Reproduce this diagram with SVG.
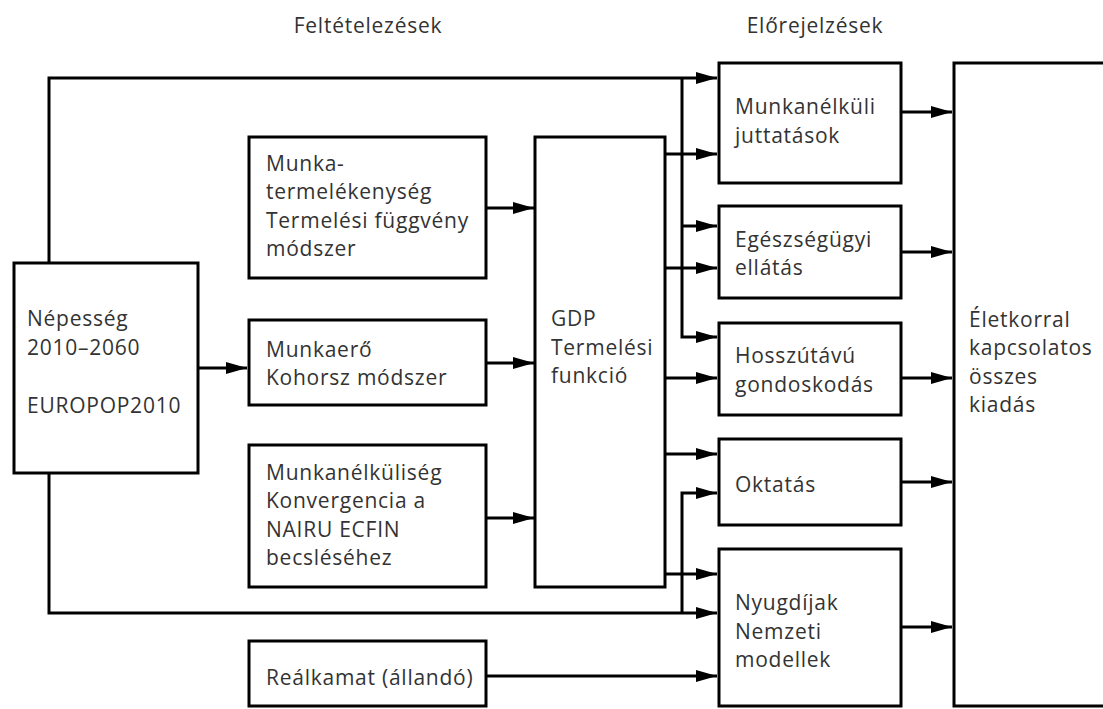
<svg xmlns="http://www.w3.org/2000/svg" width="1103" height="709" viewBox="0 0 1103 709">
  <defs>
    <style>
      .box { fill: #ffffff; stroke: #000000; stroke-width: 3; }
      .wire { fill: none; stroke: #000000; stroke-width: 3; }
      .lbl { font-family: "Open Sans", "Liberation Sans", sans-serif; font-size: 21px; letter-spacing: 0.75px; fill: #333333; }
    </style>
    <marker id="arrow" markerUnits="userSpaceOnUse" markerWidth="22" markerHeight="14" refX="21" refY="6" orient="auto">
      <path d="M0,0 L21,6 L0,12 Z" fill="#000000"/>
    </marker>
  </defs>

  <rect width="1103" height="709" fill="#ffffff"/>

  <!-- column headings -->
  <text class="lbl" x="368" y="33" text-anchor="middle">Feltételezések</text>
  <text class="lbl" x="815" y="33" text-anchor="middle">Előrejelzések</text>

  <!-- connectors -->
  <g id="connectors">
    <!-- population feeds the projections directly (top and bottom routes) -->
    <path class="wire" d="M49,263 V78 H717" marker-end="url(#arrow)"/>
    <path class="wire" d="M682,78 V337 H717" marker-end="url(#arrow)"/>
    <path class="wire" d="M682,226 H717" marker-end="url(#arrow)"/>
    <path class="wire" d="M49,473 V613 H717" marker-end="url(#arrow)"/>
    <path class="wire" d="M682,613 V493 H717" marker-end="url(#arrow)"/>
    <!-- population to labour force -->
    <path class="wire" d="M198,368 H247" marker-end="url(#arrow)"/>
    <!-- assumptions into GDP -->
    <path class="wire" d="M486,208 H534" marker-end="url(#arrow)"/>
    <path class="wire" d="M486,363 H534" marker-end="url(#arrow)"/>
    <path class="wire" d="M486,518 H534" marker-end="url(#arrow)"/>
    <!-- GDP into projections -->
    <path class="wire" d="M665,154 H717" marker-end="url(#arrow)"/>
    <path class="wire" d="M665,268 H717" marker-end="url(#arrow)"/>
    <path class="wire" d="M665,378 H717" marker-end="url(#arrow)"/>
    <path class="wire" d="M665,454 H717" marker-end="url(#arrow)"/>
    <path class="wire" d="M665,574 H717" marker-end="url(#arrow)"/>
    <!-- interest rate into pensions -->
    <path class="wire" d="M486,676 H717" marker-end="url(#arrow)"/>
    <!-- projections into total expenditure -->
    <path class="wire" d="M901,112 H952" marker-end="url(#arrow)"/>
    <path class="wire" d="M901,252 H952" marker-end="url(#arrow)"/>
    <path class="wire" d="M901,378 H952" marker-end="url(#arrow)"/>
    <path class="wire" d="M901,482 H952" marker-end="url(#arrow)"/>
    <path class="wire" d="M901,627 H952" marker-end="url(#arrow)"/>
  </g>

  <g id="nepesseg">
    <rect class="box" x="14" y="263" width="184" height="210"/>
    <text class="lbl" x="27" y="326.2">Népesség</text>
    <text class="lbl" x="27" y="354.8">2010–2060</text>
    <text class="lbl" x="27" y="413">EUROPOP2010</text>
  </g>

  <g id="termelekenyseg">
    <rect class="box" x="249" y="137" width="237" height="141"/>
    <text class="lbl" x="266" y="170.6">Munka-</text>
    <text class="lbl" x="266" y="199.2">termelékenység</text>
    <text class="lbl" x="266" y="227.8">Termelési függvény</text>
    <text class="lbl" x="266" y="256.4">módszer</text>
  </g>

  <g id="munkaero">
    <rect class="box" x="249" y="320" width="237" height="85"/>
    <text class="lbl" x="266" y="356.7">Munkaerő</text>
    <text class="lbl" x="266" y="385.3">Kohorsz módszer</text>
  </g>

  <g id="munkanelkuliseg">
    <rect class="box" x="249" y="445" width="237" height="142"/>
    <text class="lbl" x="266" y="479.6">Munkanélküliség</text>
    <text class="lbl" x="266" y="508.2">Konvergencia a</text>
    <text class="lbl" x="266" y="536.8">NAIRU ECFIN</text>
    <text class="lbl" x="266" y="565.4">becsléséhez</text>
  </g>

  <g id="realkamat">
    <rect class="box" x="249" y="641" width="237" height="65"/>
    <text class="lbl" x="266" y="685">Reálkamat (állandó)</text>
  </g>

  <g id="gdp">
    <rect class="box" x="535" y="137" width="130" height="450"/>
    <text class="lbl" x="551" y="325.9">GDP</text>
    <text class="lbl" x="551" y="354.5">Termelési</text>
    <text class="lbl" x="551" y="383.1">funkció</text>
  </g>

  <g id="munkanelkuli-juttatasok">
    <rect class="box" x="719" y="63" width="182" height="120"/>
    <text class="lbl" x="735" y="114.2">Munkanélküli</text>
    <text class="lbl" x="735" y="142.8">juttatások</text>
  </g>

  <g id="egeszsegugy">
    <rect class="box" x="719" y="206" width="182" height="92"/>
    <text class="lbl" x="735" y="246.7">Egészségügyi</text>
    <text class="lbl" x="735" y="275.3">ellátás</text>
  </g>

  <g id="gondoskodas">
    <rect class="box" x="719" y="323" width="182" height="92"/>
    <text class="lbl" x="735" y="363.2">Hosszútávú</text>
    <text class="lbl" x="735" y="391.8">gondoskodás</text>
  </g>

  <g id="oktatas">
    <rect class="box" x="719" y="439" width="182" height="86"/>
    <text class="lbl" x="735" y="492">Oktatás</text>
  </g>

  <g id="nyugdijak">
    <rect class="box" x="719" y="549" width="182" height="157"/>
    <text class="lbl" x="735" y="609.9">Nyugdíjak</text>
    <text class="lbl" x="735" y="638.5">Nemzeti</text>
    <text class="lbl" x="735" y="667.1">modellek</text>
  </g>

  <!-- the total-expenditure box runs past the right edge of the canvas -->
  <g id="osszes-kiadas">
    <rect class="box" x="954" y="63" width="200" height="643"/>
    <text class="lbl" x="969" y="326.6">Életkorral</text>
    <text class="lbl" x="969" y="355.2">kapcsolatos</text>
    <text class="lbl" x="969" y="383.8">összes</text>
    <text class="lbl" x="969" y="412.4">kiadás</text>
  </g>
</svg>
